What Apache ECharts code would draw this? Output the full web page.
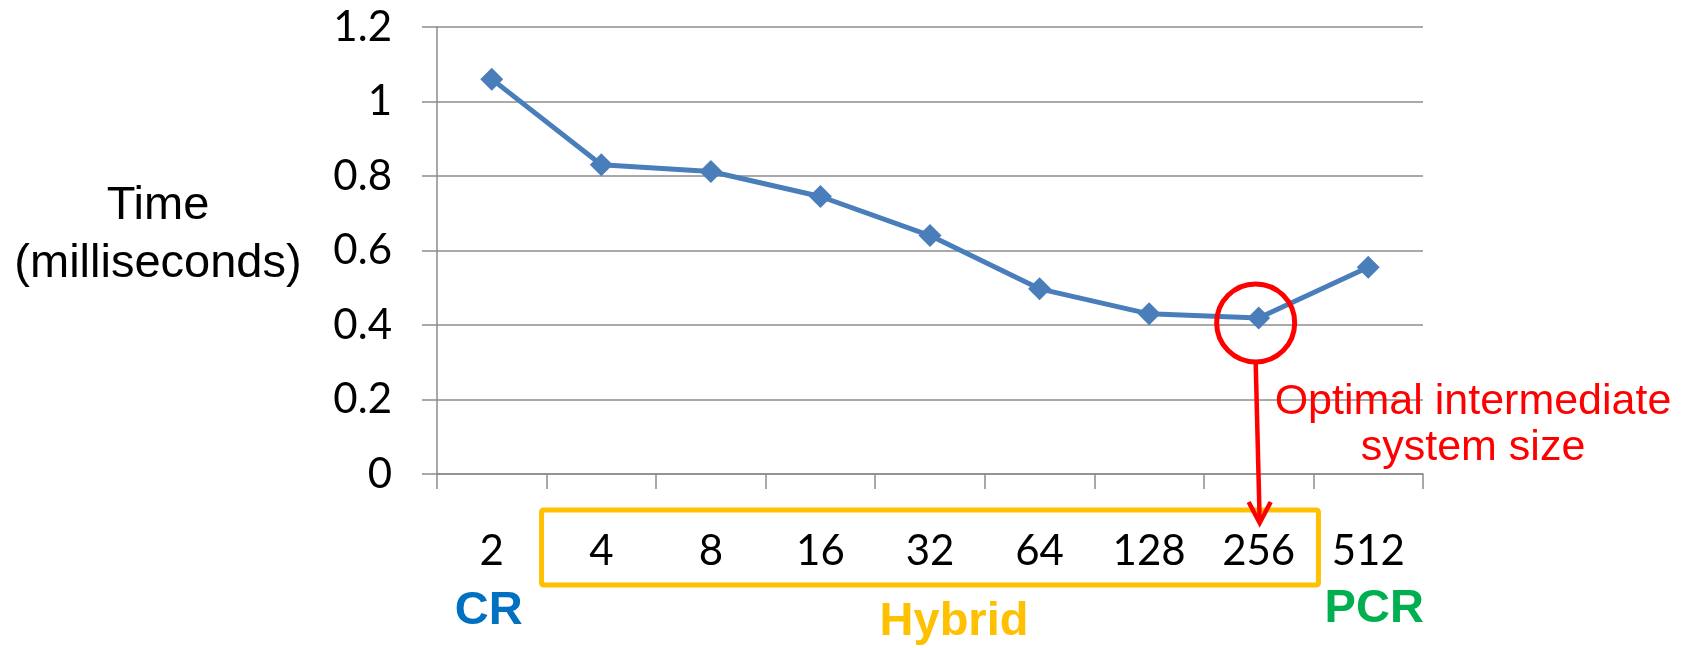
<!DOCTYPE html>
<html>
<head>
<meta charset="utf-8">
<script src="https://cdn.jsdelivr.net/npm/echarts@6/dist/echarts.min.js"></script>
<style>
  html, body { margin: 0; padding: 0; background: #ffffff; }
  #chart { width: 1687px; height: 648px; }
</style>
</head>
<body>
<div id="chart"></div>
<script>
// Intermediate system size vs. solve time
const categories = ['2', '4', '8', '16', '32', '64', '128', '256', '512'];
const timeMs = [1.06, 0.83, 0.812, 0.745, 0.64, 0.497, 0.43, 0.419, 0.555];
const yTickStep = 0.2;
const yMax = 1.2;
const optimalIndex = 7;          // 256
const hybridRange = [1, 7];      // 4 .. 256

const axisGray = '#8c8c8c';
const numFont = 'Lato, "Open Sans", sans-serif';
const textFont = '"Liberation Sans", Arial, sans-serif';

const chart = echarts.init(document.getElementById('chart'), null, { renderer: 'canvas' });

chart.setOption({
  animation: false,
  backgroundColor: '#ffffff',
  grid: { left: 437, right: 264, top: 27, bottom: 174, containLabel: false },
  xAxis: {
    type: 'category',
    data: categories,
    boundaryGap: true,
    axisLine: { show: true, lineStyle: { color: axisGray, width: 1.5 } },
    axisTick: { show: true, length: 15, alignWithLabel: false, lineStyle: { color: axisGray, width: 1.5 } },
    axisLabel: { margin: 56, fontSize: 42, lineHeight: 42, fontFamily: numFont, color: '#000000' },
    splitLine: { show: false }
  },
  yAxis: {
    type: 'value',
    min: 0,
    max: yMax,
    interval: yTickStep,
    axisLine: { show: true, lineStyle: { color: axisGray, width: 1.5 } },
    axisTick: { show: true, length: 15, lineStyle: { color: axisGray, width: 1.5 } },
    axisLabel: {
      margin: 45, fontSize: 42, fontFamily: numFont, color: '#000000',
      formatter: v => String(+v.toFixed(1))
    },
    splitLine: { show: true, lineStyle: { color: axisGray, width: 1.5 } }
  },
  series: [{
    type: 'line',
    data: timeMs,
    symbol: 'diamond',
    symbolSize: 23,
    lineStyle: { color: '#4a7ebb', width: 5 },
    itemStyle: { color: '#4a7ebb' },
    z: 3
  }]
});

// Annotations placed relative to the axes
const px = (i, v) => chart.convertToPixel({ gridIndex: 0 }, [i, v]);
const axisY = px(0, 0)[1];
const bandW = px(1, 0)[0] - px(0, 0)[0];
const boxLeft = px(hybridRange[0], 0)[0] - bandW / 2 - 5;
const boxRight = px(hybridRange[1], 0)[0] + bandW / 2 + 5;
const opt = px(optimalIndex, timeMs[optimalIndex]);
const circ = { cx: opt[0] - 3, cy: opt[1] + 5, r: 39 };
const tip = [opt[0] + 1, axisY + 49];

chart.setOption({
  graphic: [
    {
      type: 'text',
      style: {
        text: 'Time\n(milliseconds)', x: 158, y: 235,
        fontSize: 47, lineHeight: 58, fontFamily: textFont, fill: '#000000',
        align: 'center', verticalAlign: 'middle'
      }
    },
    {
      type: 'rect',
      shape: { x: boxLeft, y: axisY + 36, width: boxRight - boxLeft, height: 75, r: 2 },
      style: { fill: 'none', stroke: '#ffc000', lineWidth: 5 }
    },
    {
      type: 'circle',
      shape: circ,
      style: { fill: 'none', stroke: '#ff0000', lineWidth: 5 },
      z: 10
    },
    {
      type: 'line',
      shape: { x1: circ.cx, y1: circ.cy + circ.r, x2: tip[0], y2: tip[1] - 2 },
      style: { stroke: '#ff0000', lineWidth: 4.5 },
      z: 10
    },
    {
      type: 'polyline',
      shape: { points: [[tip[0] - 11, tip[1] - 21], [tip[0], tip[1]], [tip[0] + 11, tip[1] - 21]] },
      style: { fill: 'none', stroke: '#ff0000', lineWidth: 4.5, lineJoin: 'miter' },
      z: 10
    },
    {
      type: 'text',
      style: {
        text: 'Optimal intermediate\nsystem size', x: 1473, y: 425,
        fontSize: 43, lineHeight: 46, fontFamily: textFont, fill: '#ff0000',
        align: 'center', verticalAlign: 'middle'
      },
      z: 10
    },
    {
      type: 'text',
      style: {
        text: 'CR', x: px(0, 0)[0] - 3, y: axisY + 137,
        fontSize: 47, fontWeight: 'bold', fontFamily: textFont, fill: '#0070c0',
        align: 'center', verticalAlign: 'middle'
      }
    },
    {
      type: 'text',
      style: {
        text: 'Hybrid', x: (boxLeft + boxRight) / 2 + 24, y: axisY + 148,
        fontSize: 47, fontWeight: 'bold', fontFamily: textFont, fill: '#ffc000',
        align: 'center', verticalAlign: 'middle'
      }
    },
    {
      type: 'text',
      style: {
        text: 'PCR', x: px(categories.length - 1, 0)[0] + 6, y: axisY + 135,
        fontSize: 47, fontWeight: 'bold', fontFamily: textFont, fill: '#00b050',
        align: 'center', verticalAlign: 'middle'
      }
    }
  ]
});
</script>
</body>
</html>
